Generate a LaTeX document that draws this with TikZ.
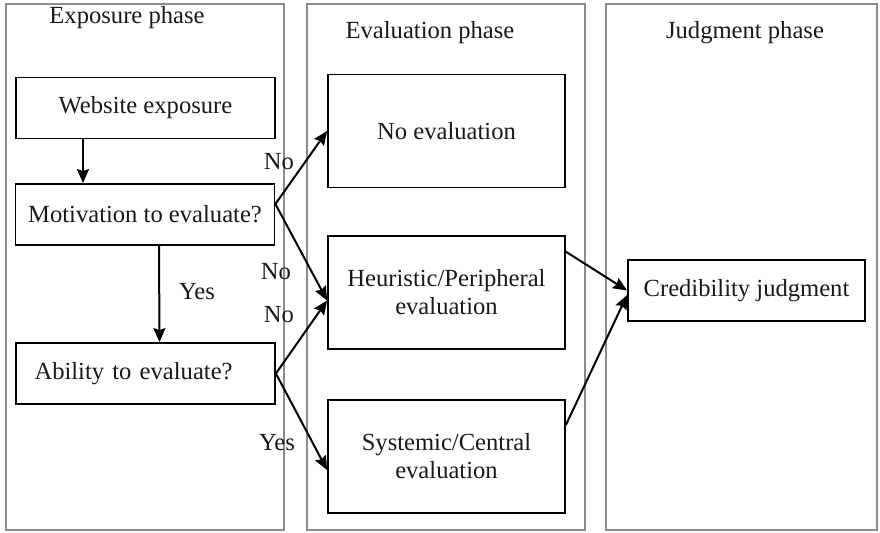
\documentclass[tikz,border=0pt]{standalone}
\usepackage{fontspec}
\setmainfont{Liberation Serif}
\usetikzlibrary{arrows.meta}

\begin{document}
\begin{tikzpicture}[x=0.5pt,y=-0.5pt,
  phasebox/.style={draw=black!45,line width=0.7pt},
  stagebox/.style={draw,line width=0.9pt,minimum width=129.5pt,minimum height=30.5pt,inner sep=0pt},
  evalbox/.style={draw,line width=0.9pt,minimum width=118.5pt,minimum height=56.5pt,align=center,inner sep=0pt},
  arr/.style={-{Stealth[length=7pt,width=6pt,inset=1pt]},line width=1pt},
  every node/.style={font=\fontsize{12.3}{14}\selectfont,text=black!90}]
\useasboundingbox (0,0) rectangle (880,532);
      \draw[phasebox] (6,4) rectangle (284,530);
      \draw[phasebox] (307,4) rectangle (585,530);
      \draw[phasebox] (606,4) rectangle (877,530);
\node (expo) at (127,18) {Exposure phase};
\node (eval) at (430,33) {Evaluation phase};
\node (judg) at (745,33) {Judgment phase};
\node [stagebox] (web) at (145.5,108) {Website exposure};
\node [stagebox] (motiv) at (145,214.5) {Motivation to evaluate?};
\node [stagebox,text width=111pt,align=left] (abil) at (145.5,373.5) {Ability to evaluate?};
\node [evalbox] (noeval) at (446.5,131) {No evaluation};
\node [evalbox] (heur) at (446.5,292.5) {Heuristic/Peripheral\\evaluation};
\node [evalbox] (syst) at (446.5,456.5) {Systemic/Central\\evaluation};
\node [stagebox,minimum width=118.5pt] (cred) at (746.5,290.5) {Credibility judgment};
      \draw[arr] ([xshift=-31.25pt]web.south) -- ([xshift=-31pt]motiv.north);
      \draw[arr] ([xshift=7pt]motiv.south) -- ([xshift=7pt]abil.north);
      \draw[arr] ([yshift=5.25pt]motiv.east) -- (noeval.west);
      \draw[arr] ([yshift=5.25pt]motiv.east) -- ([yshift=-4pt]heur.west);
      \draw[arr] (abil.east) -- ([yshift=-4pt]heur.west);
      \draw[arr] (abil.east) -- ([yshift=-6.75pt]syst.west);
      \draw[arr] ([yshift=20.4pt]heur.east) -- (cred.west);
      \draw[arr] ([yshift=15.75pt]syst.east) -- ([yshift=-2.25pt]cred.west);
\node (no1) at (279,162) {No};
\node (no2) at (276,272) {No};
\node (no3) at (279,315) {No};
\node (yes1) at (197,292) {Yes};
\node (yes2) at (277,443) {Yes};
    \end{tikzpicture}
\end{document}
